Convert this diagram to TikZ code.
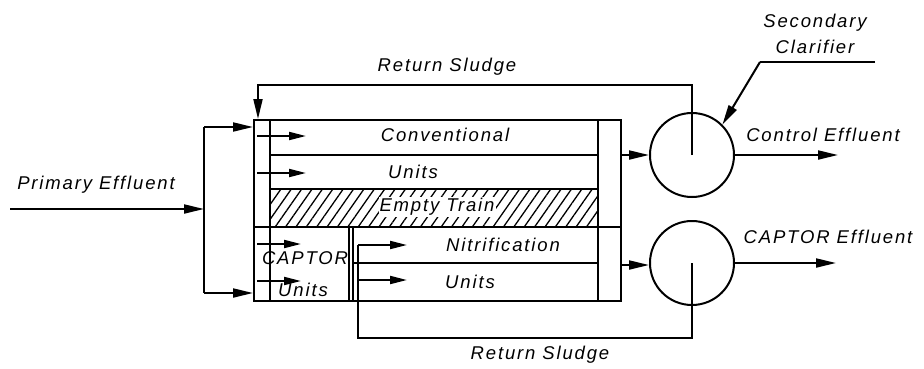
\documentclass[tikz,border=0pt]{standalone}
\usepackage{fontspec}
\setmainfont{Liberation Sans}
\newfontfamily\lblfont[LetterSpace=10]{Liberation Sans}
\usepackage{tikz}
\usetikzlibrary{arrows.meta,patterns.meta,calc}

\begin{document}
\begin{tikzpicture}[x=1pt, y=-1pt,
                   pipe/.style={line width=2pt},
                   flow/.style={pipe, -{Triangle[length=20pt,width=9pt]}},
                   feed/.style={pipe, -{Triangle[length=17pt,width=8pt]}},
                   lbl/.style={font=\lblfont\fontsize{18.5}{21}\selectfont\itshape, inner sep=1pt},
                   frame/.style={draw, line width=2pt, inner sep=0pt, anchor=north west},
                   clar/.style={draw, circle, line width=2pt, minimum size=84pt, inner sep=0pt},
                   hatch/.style={pattern={Lines[angle=55,distance=8.5pt,line width=1.3pt]}}]
    \useasboundingbox (0,0) rectangle (924,368);
    \node[frame, minimum width=367pt, minimum height=181pt] (plant) at (253,119) {};
    \node[clar] (topclar) at (692,155) {};
    \node[clar] (botclar) at (692,263) {};
    \fill[hatch] (270,189) rectangle (598,227);
    \draw[pipe] (270,119) -- (270,300);
    \draw[pipe] (598,119) -- (598,300);
    \draw[pipe] (270,155) -- (598,155);
    \draw[pipe] (270,189) -- (598,189);
    \draw[pipe] (253,227) -- (620,227);
    \draw[pipe] (349,227) -- (349,300);
    \draw[pipe] (353,227) -- (353,300);
    \draw[pipe] (353,263) -- (598,263);
    \node[lbl]                 (conv)  at (445,135) {Conventional};
    \node[lbl]                 (unit1) at (413,172) {Units};
    \node[lbl, fill=white]     (empty) at (437,207) {Empty Train};
    \node[lbl]                 (nitr)  at (503,245) {Nitrification};
    \node[lbl]                 (unit2) at (470,282) {Units};
    \node[lbl]                 (cap)   at (305,258) {CAPTOR};
    \node[lbl]                 (unit3) at (303,290) {Units};
    \node[lbl]                 (prim)  at (96,185)  {Primary Effluent};
    \node[lbl]                 (rs1)   at (447,67)  {Return Sludge};
    \node[lbl]                 (rs2)   at (540,355) {Return Sludge};
    \node[lbl, align=center]   (sec)   at (815,34)  {Secondary\\[5pt]Clarifier};
    \node[lbl]                 (ceff)  at (823,135) {Control Effluent};
    \node[lbl]                 (teff)  at (828,237) {CAPTOR Effluent};
    \coordinate (pin)  at (10,209);
    \coordinate (bus)  at (204,209);
    \coordinate (ret1) at (258,85);
    \coordinate (ret2) at (358,338);
    \coordinate (lead) at (760,62);
    \draw[flow] (pin) -- (bus);
    \draw[pipe] (bus |- 0,127) -- (bus |- 0,293);
    \draw[flow] (bus |- 0,127) -- (plant.west |- 0,127);
    \draw[flow] (bus |- 0,293) -- (plant.west |- 0,293);
    \draw[feed] (257,136) -- (306,136);
    \draw[feed] (257,173) -- (306,173);
    \draw[feed] (257,244) -- (301,244);
    \draw[feed] (257,281) -- (301,281);
    \draw[flow] (topclar.center) |- (ret1) -- (ret1 |- plant.north);
    \draw[pipe] (botclar.center) |- (ret2) -- (ret2 |- 0,245);
    \draw[feed] (ret2 |- 0,245) -- (407,245);
    \draw[feed] (ret2 |- 0,280) -- (407,280);
    \draw[flow] (plant.east |- topclar) -- (topclar.west);
    \draw[flow] (plant.east |- 0,265) -- (botclar.west |- 0,265);
    \draw[flow] (topclar.east) -- (838,155);
    \draw[flow] (botclar.east) -- (836,263);
    \draw[pipe] (875,62) -- (lead);
    \draw[flow] (lead) -- (topclar.45);
\end{tikzpicture}
\end{document}
